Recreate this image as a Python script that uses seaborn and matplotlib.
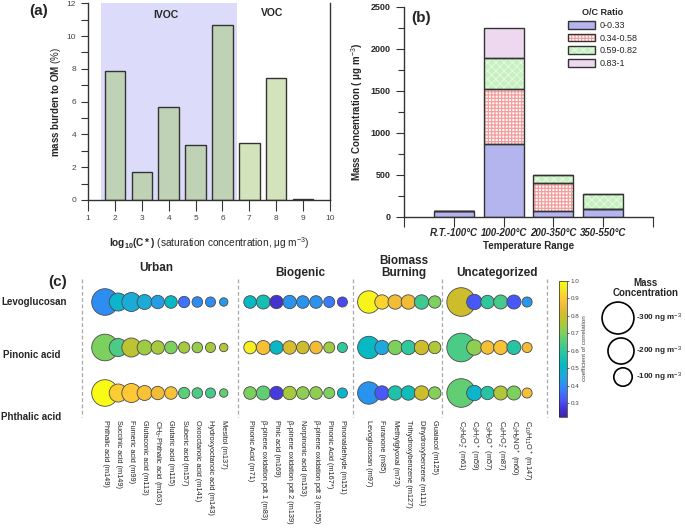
import numpy as np
import pandas as pd
import matplotlib
matplotlib.use("Agg")
import matplotlib.pyplot as plt
import seaborn as sns
from matplotlib.colors import LinearSegmentedColormap, Normalize
from matplotlib.patches import Patch
from matplotlib.ticker import MultipleLocator
from matplotlib.cm import ScalarMappable

# ---------------- data: panel (a) ----------------
cstar = [2, 3, 4, 5, 6, 7, 8, 9]
burden = [7.9, 1.7, 5.65, 3.38, 10.7, 3.48, 7.47, 0.05]
volatility = ["IVOC"] * 5 + ["VOC"] * 3

# ---------------- data: panel (b) ----------------
temp_ranges = ["R.T.-100°C", "100-200°C", "200-350°C", "350-550°C"]
oc_labels = ["0-0.33", "0.34-0.58", "0.59-0.82", "0.83-1"]
oc_0_033 = [75, 867, 75, 98]
oc_034_058 = [0, 650, 330, 0]
oc_059_082 = [0, 368, 100, 175]
oc_083_1 = [0, 357, 0, 0]

# ---------------- data: panel (c) ----------------
row_names = ["Levoglucosan", "Pinonic acid", "Phthalic acid"]
group_titles = ["Urban", "Biogenic", "Biomass\nBurning", "Uncategorized"]

urban_names = ["Phthalic acid (m149)", "Succinic acid (m149)", "Fumeric acid (m99)",
               "Glutaconic acid (m113)", "CH$_3$-Phthalic acid (m163)", "Glutaric acid (m115)",
               "Suberic acid (m157)", "Oxooctanoic acid (m141)", "Hydroxyoctanoic acid (m143)",
               "Mesitol (m137)"]
urban_mass = [209, 96, 107, 66, 53, 47, 38, 33, 30, 21]
urban_corr = [[0.40, 0.50, 0.47, 0.47, 0.43, 0.52, 0.36, 0.40, 0.40, 0.42],
              [0.70, 0.64, 0.78, 0.74, 0.75, 0.70, 0.75, 0.73, 0.75, 0.77],
              [1.00, 0.91, 0.90, 0.88, 0.86, 0.88, 0.66, 0.64, 0.63, 0.67]]

biogenic_names = ["Pinonic Acid (m71)", "β-pinene oxidation pdt 1 (m83)", "Pinic acid (m169)",
                  "β-pinene oxidation pdt 2 (m139)", "Norpinonic acid (m153)",
                  "β-pinene oxidation pdt 3 (m155)", "Pinonic Acid (m167*)", "Pinonaldehyde (m151)"]
biogenic_mass = [47, 58, 53, 53, 47, 47, 36, 30]
biogenic_corr = [[0.52, 0.55, 0.26, 0.41, 0.41, 0.41, 0.37, 0.30],
                 [0.97, 0.87, 0.52, 0.82, 0.80, 0.86, 0.74, 0.60],
                 [0.70, 0.67, 0.28, 0.75, 0.72, 0.72, 0.70, 0.50]]

biomass_names = ["Levoglucosan (m97)", "Furanone (m85)", "Methylglyoxal (m73)",
                 "Trihydroxybenzene (m127)", "Dihydroxybenzene (m111)", "Guaiacol (m125)"]
biomass_mass = [148, 61, 61, 61, 61, 45]
biomass_corr = [[0.98, 0.92, 0.86, 0.86, 0.62, 0.70],
                [0.52, 0.46, 0.70, 0.60, 0.80, 0.76],
                [0.41, 0.32, 0.57, 0.54, 0.80, 0.71]]

uncat_names = ["C$_2$H$_4$O$_2^+$ (m61)", "C$_3$H$_7$O$^+$ (m59)", "C$_3$H$_5$O$^+$ (m57)",
               "C$_4$H$_7$O$_2^+$ (m87)", "C$_2$H$_5$NO$^+$ (m60)", "C$_{10}$H$_{11}$O$^+$ (m147)"]
uncat_mass = [242, 70, 53, 58, 58, 30]
uncat_corr = [[0.80, 0.32, 0.60, 0.63, 0.32, 0.42],
              [0.64, 0.72, 0.87, 0.88, 0.58, 0.86],
              [0.67, 0.50, 0.58, 0.76, 0.70, 0.87]]

legend_mass = [300, 200, 100]
corr_ticks = [0.3, 0.4, 0.5, 0.6, 0.7, 0.8, 0.9, 1.0]

# ---------------- style ----------------
sns.set_theme(style="ticks")
plt.rcParams["font.family"] = ["Liberation Sans", "DejaVu Sans"]
plt.rcParams["mathtext.fontset"] = "custom"
plt.rcParams["mathtext.rm"] = "Liberation Sans"
plt.rcParams["mathtext.it"] = "Liberation Sans:italic"
plt.rcParams["mathtext.bf"] = "Liberation Sans:bold"
plt.rcParams["hatch.linewidth"] = 0.8

W, H = 685, 528
fig = plt.figure(figsize=(W / 100, H / 100), dpi=100)


def fx(px):
    return px / W


def fy(py):
    return 1 - py / H


# parula colormap
parula_pts = [(0.2422, 0.1504, 0.6603), (0.2691, 0.2060, 0.8451), (0.2803, 0.3420, 0.9750),
              (0.2305, 0.4709, 0.9919), (0.1540, 0.5902, 0.9218), (0.1176, 0.6681, 0.8520),
              (0.0180, 0.7201, 0.7803), (0.1020, 0.7585, 0.6804), (0.2161, 0.7843, 0.5923),
              (0.3474, 0.8066, 0.4811), (0.5100, 0.8157, 0.3495), (0.6718, 0.7862, 0.2235),
              (0.8160, 0.7378, 0.1702), (0.9385, 0.7291, 0.2120), (0.9959, 0.7842, 0.2115),
              (0.9600, 0.8995, 0.1522), (0.9769, 0.9839, 0.0805)]
parula = LinearSegmentedColormap.from_list("parula", parula_pts)
cnorm = Normalize(0.22, 1.0)

dark = "#333333"

# ---------------- panel (a) ----------------
axa = fig.add_axes([fx(88), fy(200), fx(330) - fx(88), fy(3.3) - fy(200)])
axa.axvspan(1.5, 6.55, color="#dcdcfa", lw=0, zorder=0)
sns.barplot(x=cstar, y=burden, hue=volatility,
            palette={"IVOC": "#bed6b2", "VOC": "#d4e9b6"},
            native_scale=True, dodge=False, width=0.76, errorbar=None,
            edgecolor=dark, linewidth=1.0, legend=False, ax=axa, zorder=2)
axa.set_xlim(1, 10)
axa.set_ylim(0, 12)
axa.set_xticks(range(1, 11))
axa.yaxis.set_major_locator(MultipleLocator(2))
axa.yaxis.set_minor_locator(MultipleLocator(1))
axa.spines["top"].set_visible(False)
for s in ["left", "right", "bottom"]:
    axa.spines[s].set_color(dark)
    axa.spines[s].set_linewidth(1.0)
axa.tick_params(axis="x", length=8, width=0.8, color=dark, labelsize=6, labelcolor="#444444", pad=3)
axa.tick_params(axis="y", which="both", length=5, width=0.8, color=dark, labelsize=6, labelcolor="#444444")
axa.set_xlabel(r"$\mathbf{log_{10}(C*)}$ (saturation concentration, μg m$^{-3}$)", fontsize=7.3, labelpad=9)
axa.set_ylabel(r"$\mathbf{mass\ burden\ to\ OM}$ (%)", fontsize=7, labelpad=3)
axa.text(3.9, 11.3, "IVOC", fontsize=7.5, fontweight="bold", ha="center", va="center")
axa.text(7.85, 11.4, "VOC", fontsize=7.5, fontweight="bold", ha="center", va="center")
fig.text(fx(39), fy(11), "(a)", fontsize=11, fontweight="bold", ha="center", va="center")

# ---------------- panel (b) ----------------
axb = fig.add_axes([fx(404), fy(217), fx(653) - fx(404), fy(6.7) - fy(217)])
xb = np.arange(len(temp_ranges))
layers = [(oc_0_033, "#b4b4ee", None, "#b4b4ee"),
          (oc_034_058, "#fff6f6", "+++++", "#f39a9a"),
          (oc_059_082, "#c6f0c0", "xxxx", "#e2f9de"),
          (oc_083_1, "#eed8ef", None, "#eed8ef")]
bottom = np.zeros(len(temp_ranges))
handles = []
for vals, face, hatch, hcol in layers:
    vals = np.asarray(vals, dtype=float)
    axb.bar(xb, vals, 0.8, bottom=bottom, color=face, hatch=hatch, edgecolor=hcol, lw=0, zorder=2)
    axb.bar(xb, vals, 0.8, bottom=bottom, facecolor="none", edgecolor=dark, lw=1.0, zorder=3)
    handles.append((Patch(facecolor=face, hatch=hatch, edgecolor=hcol, lw=0),
                    Patch(facecolor="none", edgecolor=dark, lw=1.0)))
    bottom = bottom + vals
axb.set_xlim(-1, 4)
axb.set_ylim(0, 2500)
axb.set_xticks(range(-1, 5))
axb.set_xticklabels([""] + temp_ranges + [""])
for lab in axb.get_xticklabels():
    lab.set_fontweight("bold")
    lab.set_fontstyle("italic")
axb.yaxis.set_major_locator(MultipleLocator(500))
axb.yaxis.set_minor_locator(MultipleLocator(250))
for lab in axb.get_yticklabels():
    lab.set_fontweight("bold")
axb.spines["top"].set_visible(False)
axb.spines["right"].set_visible(False)
for s in ["left", "bottom"]:
    axb.spines[s].set_color(dark)
    axb.spines[s].set_linewidth(1.0)
axb.tick_params(axis="x", length=7, width=0.8, color=dark, labelsize=7, pad=1)
axb.tick_params(axis="y", which="major", length=6, width=0.8, color=dark, labelsize=6.5)
axb.tick_params(axis="y", which="minor", length=4.5, width=0.8, color=dark)
axb.set_xlabel("Temperature Range", fontsize=7, fontweight="bold", labelpad=2)
axb.set_ylabel("Mass Concentration ( μg m$^{-3}$)", fontsize=7, fontweight="bold", labelpad=4)
leg = axb.legend(handles, oc_labels, title="O/C Ratio", frameon=False, loc="upper left",
                 bbox_to_anchor=(fx(568), fy(8)), bbox_transform=fig.transFigure,
                 fontsize=6.5, title_fontsize=6.5, handlelength=3.0, handleheight=0.95,
                 handletextpad=0.5, labelspacing=0.42, borderpad=0.0, borderaxespad=0.0)
leg.get_title().set_fontweight("bold")
fig.text(fx(421), fy(18), "(b)", fontsize=11, fontweight="bold", ha="center", va="center")

# ---------------- panel (c) ----------------
x0_px, dx_px = 105, 13.19
y0_px, dy_px = 302, 45.5
axc = fig.add_axes([fx(70), 0, fx(685) - fx(70), fy(240)])

group_names = [urban_names, biogenic_names, biomass_names, uncat_names]
group_mass = [urban_mass, biogenic_mass, biomass_mass, uncat_mass]
group_corr = [urban_corr, biogenic_corr, biomass_corr, uncat_corr]

records = []
start = 0
for names, mass, corr in zip(group_names, group_mass, group_corr):
    for r_i in range(len(row_names)):
        for j, nm in enumerate(names):
            records.append({"pos": start + j, "row": r_i, "mass": mass[j],
                            "corr": corr[r_i][j], "name": nm})
    start += len(names) + 1
df = pd.DataFrame(records)

k_size = 1.756  # pt^2 per ng m-3
sns.scatterplot(data=df, x="pos", y="row", size="mass", sizes=(0, k_size * 300),
                size_norm=(0, 300), hue="corr", palette=parula, hue_norm=cnorm,
                edgecolor="#4a4a4a", linewidth=0.6, legend=False, ax=axc, zorder=3)
axc.set_xlim((70 - x0_px) / dx_px, (685 - x0_px) / dx_px)
axc.set_ylim((528 - y0_px) / dy_px, (240 - y0_px) / dy_px)
axc.axis("off")

# column labels
lab_row = (420 - y0_px) / dy_px
for (nm, p) in df[df["row"] == 0][["name", "pos"]].itertuples(index=False):
    axc.text(p, lab_row, nm, rotation=270, ha="center", va="top", fontsize=5.35, color="#222222")

# dashed separators
sep_x = [(82 - x0_px) / dx_px, (238 - x0_px) / dx_px, (353 - x0_px) / dx_px,
         (442 - x0_px) / dx_px, (547 - x0_px) / dx_px]
for sx in sep_x:
    axc.plot([sx, sx], [(279 - y0_px) / dy_px, (417 - y0_px) / dy_px], ls=(0, (3, 2)),
             color="#a8a8a8", lw=0.9, zorder=1)

# group titles
fig.text(fx(156), fy(268), group_titles[0], fontsize=8.5, fontweight="bold", ha="center", va="center")
fig.text(fx(300), fy(273), group_titles[1], fontsize=8.5, fontweight="bold", ha="center", va="center")
fig.text(fx(404), fy(267), group_titles[2], fontsize=8.5, fontweight="bold", ha="center", va="center",
         linespacing=1.0)
fig.text(fx(497), fy(273), group_titles[3], fontsize=8.5, fontweight="bold", ha="center", va="center")

# row labels
for name, px, py in zip(row_names, [1, 3, 1], [302, 355, 417]):
    fig.text(fx(px), fy(py), name, fontsize=7, fontweight="bold", ha="left", va="center")
fig.text(fx(58), fy(282), "(c)", fontsize=11, fontweight="bold", ha="center", va="center")

# size legend
leg_px = [618, 621, 623]
leg_py = [318, 351, 377]
axc.scatter([(p - x0_px) / dx_px for p in leg_px], [(p - y0_px) / dy_px for p in leg_py],
            s=[k_size * m for m in legend_mass], facecolor="white", edgecolor="black",
            linewidth=1.2, zorder=3)
for m, py in zip(legend_mass, leg_py):
    fig.text(fx(636), fy(py), f"-{m} ng m$^{{-3}}$", fontsize=5.9, fontweight="bold",
             ha="left", va="center")
fig.text(fx(646), fy(288), "Mass\nConcentration", fontsize=7, fontweight="bold",
         ha="center", va="center", linespacing=1.1)

# colorbar
cax = fig.add_axes([fx(559), fy(417), fx(567) - fx(559), fy(281) - fy(417)])
cb = fig.colorbar(ScalarMappable(norm=cnorm, cmap=parula), cax=cax)
cb.set_ticks(corr_ticks)
cb.set_ticklabels([f"{t:.1f}" for t in corr_ticks])
cb.ax.tick_params(labelsize=4.5, length=1.5, width=0.5, pad=1, labelcolor="#444444")
cb.outline.set_linewidth(0.5)
fig.text(fx(585), fy(348), "coefficient of correlation", rotation=90, fontsize=4.5,
         color="#444444", ha="center", va="center")

fig.savefig("out.png", dpi=100)
